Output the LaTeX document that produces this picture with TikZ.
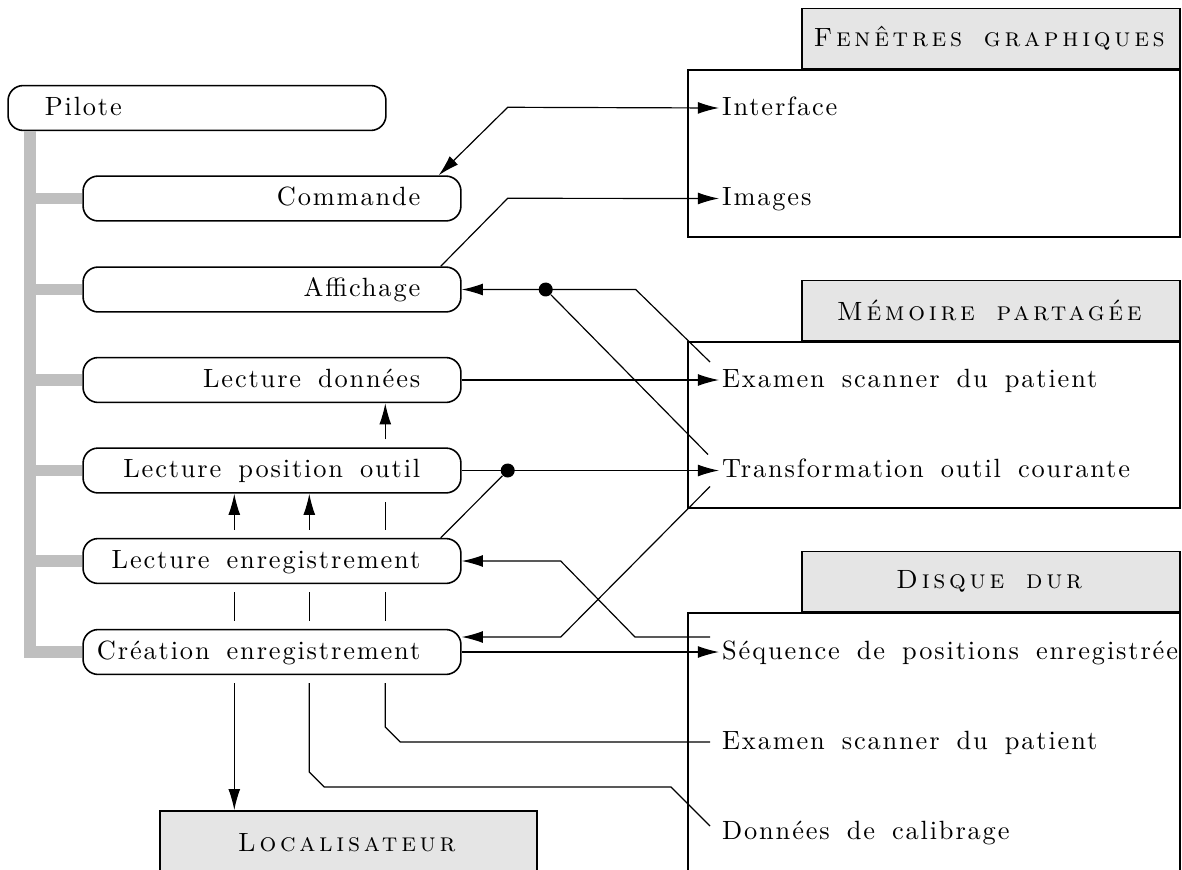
\documentclass[tikz,border=0pt]{standalone}
\usepackage{fontspec}
\setmainfont{lmroman10-regular.otf}[LetterSpace=7,WordSpace=1.6,SmallCapsFont=lmromancaps10-regular.otf,SmallCapsFeatures={LetterSpace=14}]
\usetikzlibrary{arrows.meta,calc}
\begin{document}
\begin{tikzpicture}[x=0.379pt,y=-0.379pt]
	\tikzstyle{proc}=[draw,line width=0.6pt,rounded corners=5.7pt,fill=white,minimum width=143.2pt,minimum height=17pt]
	\tikzstyle{tasktext}=[anchor=east,xshift=-15.5pt,inner xsep=0pt,text height=1.6ex,text depth=0.3ex]
	\tikzstyle{pilottext}=[anchor=west,xshift=14pt,inner xsep=0pt,text height=1.6ex,text depth=0.3ex]
	\tikzstyle{store}=[draw,line width=0.6pt,minimum width=186.5pt]
	\tikzstyle{storehead}=[draw,line width=0.6pt,fill=black!10,minimum width=143.3pt,minimum height=22.7pt,anchor=south east]
	\tikzstyle{entry}=[anchor=west,inner xsep=1pt,text height=1.6ex,text depth=0.3ex]
	\tikzstyle{link}=[draw,line width=0.45pt]
	\tikzstyle{arr}=[link,-{Latex[length=8pt,width=4.5pt]}]
	\tikzstyle{gap}=[link,shorten <=3pt,shorten >=3pt]
	\tikzstyle{joint}=[circle,fill=black,inner sep=0pt,minimum size=5.3pt]
	\tikzstyle{spine}=[draw,black!25,line width=4.5pt]
	\useasboundingbox (0,0) rectangle (1182,869);
	\clip (0,0) rectangle (1182,869);
	\begin{scope}
		% processus
		\node[proc,label={[pilottext]west:Pilote}] (pil) at (197,108) {};
		\node[proc,label={[tasktext]east:Commande}] (com) at (272,198.5) {};
		\node[proc,label={[tasktext]east:Affichage}] (aff) at (272,289.5) {};
		\node[proc,label={[tasktext]east:Lecture données}] (lda) at (272,380) {};
		\node[proc,label={[tasktext]east:Lecture position outil}] (lpo) at (272,470.5) {};
		\node[proc,label={[tasktext]east:Lecture enregistrement}] (len) at (272,561) {};
		\node[proc,label={[tasktext]east:Création enregistrement}] (cre) at (272,652) {};
		\node[draw,line width=0.6pt,fill=black!10,minimum width=143pt,minimum height=24.3pt] (loc) at (348.5,843) {\textsc{Localisateur}};
		% ressources
		\node[store,minimum height=63.3pt] (fen) at (934,153.5) {};
		\node[storehead] (fenh) at (fen.north east) {\textsc{Fenêtres graphiques}};
		\node[store,minimum height=62.9pt] (mem) at (934,425) {};
		\node[storehead] (memh) at (mem.north east) {\textsc{Mémoire partagée}};
		\node[store,minimum height=113.7pt] (dis) at (934,763) {};
		\node[storehead] (dish) at (dis.north east) {\textsc{Disque dur}};
		\node[entry] (int) at (719,108) {Interface};
		\node[entry] (img) at (719,198.5) {Images};
		\node[entry] (exa) at (719,380) {Examen scanner du patient};
		\node[entry] (tra) at (719,470.5) {Transformation outil courante};
		\node[entry] (seq) at (719,652) {Séquence de positions enregistrée};
		\node[entry] (exd) at (719,742) {Examen scanner du patient};
		\node[entry] (don) at (719,832) {Données de calibrage};
	\end{scope}
	% arbre du pilote
	\coordinate (bx) at ($(pil.south west)+(23,0)$);
	\path[spine] (bx) -- (bx |- cre.west) -- (cre.west);
	\foreach \n in {com,aff,lda,lpo,len}
		\path[spine] (bx |- \n.west) -- (\n.west);
	% fenetres graphiques
	\path[link,{Latex[length=8pt,width=4.5pt]}-{Latex[length=8pt,width=4.5pt]}] ($(com.north east)+(-23,0)$) -- ++(69,-68) -- (int.west);
	\path[arr] ($(aff.north east)+(-21,0)$) -- ++(67,-68) -- (img.west);
	% memoire partagee
	\node[joint] (j1) at ($(aff.east)+(84,0)$) {};
	\node[joint] (j2) at ($(lpo.east)+(46,0)$) {};
	\path[arr] ($(exa.west)+(-9,-18)$) -- ($(aff.east)+(174,0)$) -- (aff.east);
	\path[link] ($(tra.west)+(-11,-16)$) -- (j1);
	\path[arr] (lda.east) -- (exa.west);
	\path[arr] (lpo.east) -- (tra.west);
	\path[link] ($(len.north east)+(-21,0)$) -- (j2);
	\path[arr] ($(tra.west)+(-9,16)$) -- ($(cre.east)+(99,-15)$) -- ($(cre.east)+(0,-15)$);
	% disque dur
	\path[arr] (cre.east) -- (seq.west);
	\path[arr] ($(seq.west)+(-9,-15)$) -- ($(seq.west)+(-84,-15)$) -- ($(len.east)+(99,0)$) -- (len.east);
	% liaisons verticales
	\coordinate (xa) at ($(lpo.south west)+(152,0)$);
	\coordinate (xb) at ($(lpo.south west)+(227,0)$);
	\coordinate (xc) at ($(lpo.south west)+(303,0)$);
	\path[arr,shorten <=3pt] (xa |- len.north) -- (xa |- lpo.south);
	\path[gap] (xa |- cre.north) -- (xa |- len.south);
	\path[arr,shorten <=3pt] (xa |- cre.south) -- (xa |- loc.north);
	\path[arr,shorten <=3pt] (xb |- len.north) -- (xb |- lpo.south);
	\path[gap] (xb |- cre.north) -- (xb |- len.south);
	\path[link,shorten <=3pt] (xb |- cre.south) -- ($(xb |- don.west)+(0,-60)$) -- ($(xb |- don.west)+(15,-45)$) -- ($(don.west)+(-48,-45)$) -- ($(don.west)+(-9,-6)$);
	\path[arr,shorten <=3pt] (xc |- lpo.north) -- (xc |- lda.south);
	\path[gap] (xc |- len.north) -- (xc |- lpo.south);
	\path[gap] (xc |- cre.north) -- (xc |- len.south);
	\path[link,shorten <=3pt] (xc |- cre.south) -- ($(xc |- exd.west)+(0,-15)$) -- ($(xc |- exd.west)+(15,0)$) -- ($(exd.west)+(-9,0)$);
\end{tikzpicture}
\end{document}
